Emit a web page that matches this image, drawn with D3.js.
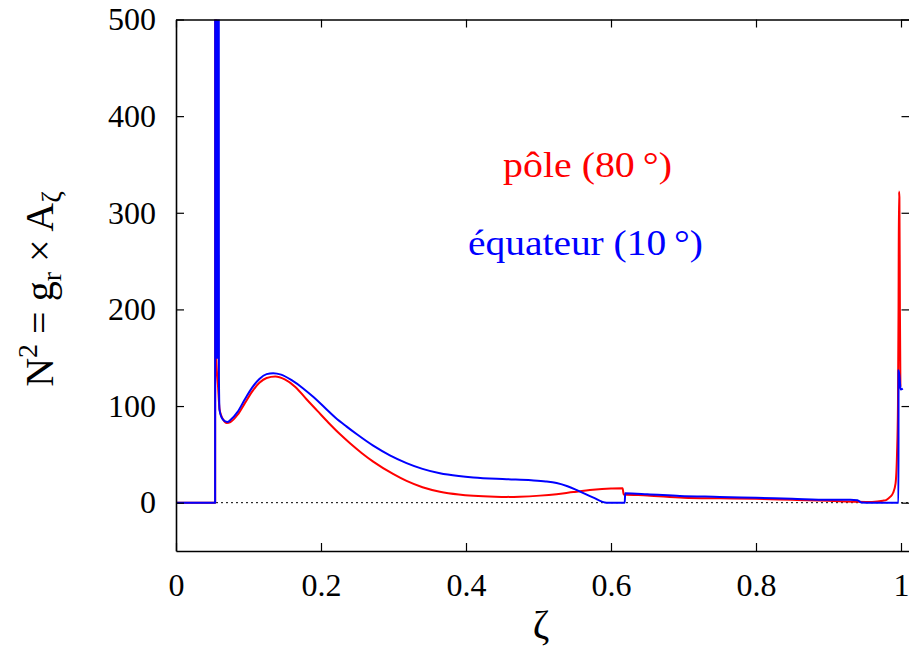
<!DOCTYPE html>
<html><head><meta charset="utf-8">
<script src="https://cdn.jsdelivr.net/npm/d3@7"></script>
<style>body{margin:0;background:#fff}</style>
</head><body><svg id="c" width="909" height="660"></svg>
<script>
const xTicks = [0, 0.2, 0.4, 0.6, 0.8, 1];
const xTickLabels = ["0", "0.2", "0.4", "0.6", "0.8", "1"];
const yTicks = [0, 100, 200, 300, 400, 500];
const yTickLabels = ["0", "100", "200", "300", "400", "500"];

const poleZeta = [0,0.054,0.0541,0.0553,0.0556,0.058,0.060,0.062,0.065,0.070,0.075,0.085,0.095,0.105,0.115,0.125,0.137,0.150,0.165,0.180,0.195,0.210,0.226,0.240,0.256,0.272,0.300,0.318,0.340,0.364,0.390,0.410,0.440,0.456,0.474,0.502,0.525,0.548,0.575,0.600,0.616,0.6175,0.650,0.700,0.750,0.800,0.850,0.900,0.940,0.960,0.975,0.980,0.985,0.989,0.9925,0.9945,0.9958,0.9966,0.9972,0.9978,0.9985,0.9992];
const poleN2 = [0,0,900,900,150,120,97,91,86,82.5,83.5,91,103,115,124,129,130.5,127.5,119.5,107,95,83,71,61.5,51.5,42.5,29.5,22.5,16,11.4,8.5,7.2,6.2,6,6.2,7.3,8.8,11,13.3,14.6,15,8.5,7.5,5.2,4.5,4,3,2,1,0.8,2,3,6,10,20,50,100,200,322,316,200,120];

const eqZeta = [0,0.054,0.0541,0.0556,0.0560,0.0564,0.0568,0.0572,0.0576,0.0580,0.0584,0.0588,0.0592,0.0600,0.063,0.067,0.071,0.075,0.085,0.095,0.105,0.115,0.125,0.134,0.145,0.160,0.175,0.190,0.205,0.220,0.235,0.250,0.272,0.295,0.318,0.340,0.364,0.390,0.410,0.456,0.490,0.510,0.525,0.540,0.553,0.575,0.594,0.619,0.6195,0.650,0.695,0.750,0.800,0.850,0.900,0.930,0.940,0.945,0.960,0.9965,0.9966,0.998,0.9995,1.0025];
const eqN2 = [0,0,900,900,150,900,150,900,150,900,150,900,130,96,88,84.5,83.5,85.5,94,107,119,128,133,134,132.5,126.5,118.5,109,98.5,88,79,70.5,59,49,41,35,30.4,27.5,26,24.3,23.2,22,20.3,17,13,5.5,0,0,9.7,8.8,6.9,6,5,4,3,3,2.5,0.3,0,0,137,130,117,118];

const seriesLabels = ["pôle (80\u2009°)", "équateur (10\u2009°)"];
const seriesColors = ["#ff0000", "#0000ff"];

const svg = d3.select("#c");
const L = 176, R = 909.5, T = 19.5, B = 551;
const x = d3.scaleLinear().domain([0, (R - L) / 725]).range([L, R]);
const y = d3.scaleLinear().domain([-50, 500]).range([B, T]);
const font = "'Liberation Serif','Times New Roman',serif";

svg.append("defs").append("clipPath").attr("id", "clip")
  .append("rect").attr("x", L).attr("y", T).attr("width", R - L).attr("height", B - T);

// zero line
svg.append("line").attr("x1", x(0)).attr("x2", R).attr("y1", y(0)).attr("y2", y(0))
  .attr("stroke", "#000").attr("stroke-width", 1).attr("stroke-dasharray", "2,3");

const line = d3.line().x(d => x(d[0])).y(d => y(d[1])).curve(d3.curveMonotoneX);
const g = svg.append("g").attr("clip-path", "url(#clip)");
[[poleZeta, poleN2], [eqZeta, eqN2]].forEach((s, i) => {
  g.append("path").datum(s[0].map((z, k) => [z, s[1][k]]))
    .attr("d", line).attr("fill", "none").attr("stroke", seriesColors[i])
    .attr("stroke-width", 2).attr("stroke-linejoin", "round");
});

// axes
const axBottom = svg.append("g").attr("transform", `translate(0,${B})`)
  .call(d3.axisBottom(x).tickValues(xTicks).tickFormat((d, i) => xTickLabels[i]).tickSizeInner(-8).tickSizeOuter(0).tickPadding(22));
const axTop = svg.append("g").attr("transform", `translate(0,${T})`)
  .call(d3.axisTop(x).tickValues(xTicks).tickFormat("").tickSizeInner(-8).tickSizeOuter(0));
const axLeft = svg.append("g").attr("transform", `translate(${L},0)`)
  .call(d3.axisLeft(y).tickValues(yTicks).tickFormat((d, i) => yTickLabels[i]).tickSizeInner(-8).tickSizeOuter(0).tickPadding(20));
const axRight = svg.append("g").attr("transform", `translate(${R},0)`)
  .call(d3.axisRight(y).tickValues(yTicks).tickFormat("").tickSizeInner(-8).tickSizeOuter(0));
[axBottom, axTop, axLeft, axRight].forEach(a => {
  a.select(".domain").attr("stroke", "#000").attr("stroke-width", 1.6);
  a.selectAll(".tick line").attr("stroke", "#000").attr("stroke-width", 1.2);
  a.selectAll("text").attr("font-family", font).attr("font-size", 32).attr("fill", "#000");
});
axBottom.selectAll("text").attr("dy", "0.71em");

// axis titles
svg.append("text").attr("x", 541).attr("y", 638).attr("text-anchor", "middle")
  .attr("font-family", font).attr("font-size", 40).text("ζ");

const yl = svg.append("text").attr("transform", "translate(53,289) rotate(-90)")
  .attr("text-anchor", "middle").attr("font-family", font).attr("font-size", 40);
yl.append("tspan").text("N");
yl.append("tspan").attr("font-size", 28).attr("dy", -16).text("2");
yl.append("tspan").attr("dy", 16).text(" = g");
yl.append("tspan").attr("font-size", 28).attr("dy", 8).text("r");
yl.append("tspan").attr("dy", -8).text(" × A");
yl.append("tspan").attr("font-size", 28).attr("dy", 8).text("ζ");

// legend labels
svg.append("text").attr("x", 503).attr("y", 177)
  .attr("font-family", font).attr("font-size", 35).attr("fill", seriesColors[0])
  .attr("textLength", 169).attr("lengthAdjust", "spacingAndGlyphs").text(seriesLabels[0]);
svg.append("text").attr("x", 468).attr("y", 255)
  .attr("font-family", font).attr("font-size", 35).attr("fill", seriesColors[1])
  .attr("textLength", 235).attr("lengthAdjust", "spacingAndGlyphs").text(seriesLabels[1]);
</script></body></html>
